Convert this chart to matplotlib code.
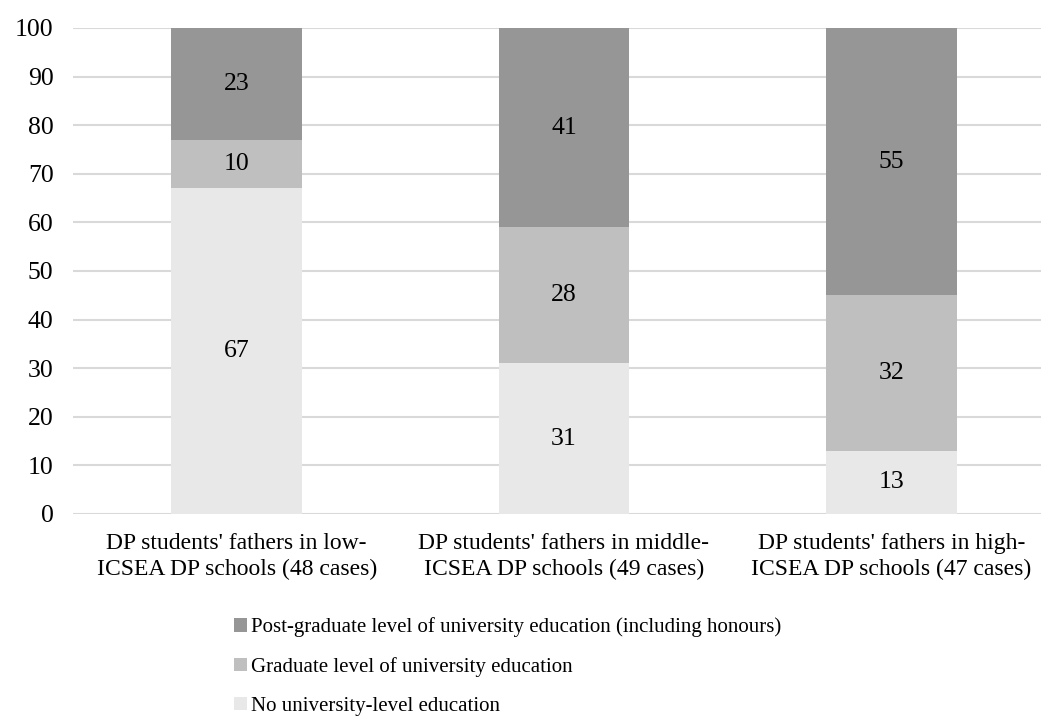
import numpy as np
import matplotlib
matplotlib.use("Agg")
import matplotlib.pyplot as plt

# fathers' education level by school ICSEA group (percent of cases)
categories = ["DP students' fathers in low-\nICSEA DP schools (48 cases)",
              "DP students' fathers in middle-\nICSEA DP schools (49 cases)",
              "DP students' fathers in high-\nICSEA DP schools (47 cases)"]
no_uni = [67, 31, 13]
graduate = [10, 28, 32]
postgrad = [23, 41, 55]

series_names = ["No university-level education",
                "Graduate level of university education",
                "Post-graduate level of university education (including honours)"]
colours = ["#E8E8E8", "#BFBFBF", "#969696"]

plt.rcParams['font.family'] = ['Liberation Serif', 'DejaVu Serif']

fig = plt.figure(figsize=(10.41, 7.18), dpi=100)
ax = fig.add_axes([73/1041, 1 - 514/718, (1055 - 73)/1041, 486/718])

x = np.arange(len(categories))
bottom = np.zeros(len(categories))
bars = []
for vals, name, col in zip([no_uni, graduate, postgrad], series_names, colours):
    b = ax.bar(x, vals, width=0.40, bottom=bottom, color=col, label=name, zorder=2)
    for xi, v, b0 in zip(x, vals, bottom):
        ax.text(xi, b0 + v / 2, str(v), ha='center', va='center', fontsize=18.5, color='black')
    bars.append(b)
    bottom = bottom + np.array(vals)

ax.set_xlim(-0.5, 2.5)
ax.set_ylim(0, 100)
ax.set_yticks(np.arange(0, 101, 10))
ax.yaxis.grid(True, color='#D9D9D9', linewidth=1.5, zorder=0)
ax.set_axisbelow(True)
for s in ax.spines.values():
    s.set_visible(False)
ax.tick_params(axis='both', length=0, colors='black')
ax.tick_params(axis='y', pad=14, labelsize=18.5)
ax.tick_params(axis='x', pad=14)
ax.set_xticks(x)
ax.set_xticklabels(categories, fontsize=17, linespacing=1.25)

# legend: post-graduate on top
handles = bars[::-1]
labels = series_names[::-1]
fig.legend(handles, labels, loc='upper left', bbox_to_anchor=(226/1041, 1 - 609/718),
           frameon=False, fontsize=15, handlelength=0.6, handleheight=0.6,
           handletextpad=0.2, labelspacing=0.95, borderaxespad=0)

fig.savefig("out.png", dpi=100)
